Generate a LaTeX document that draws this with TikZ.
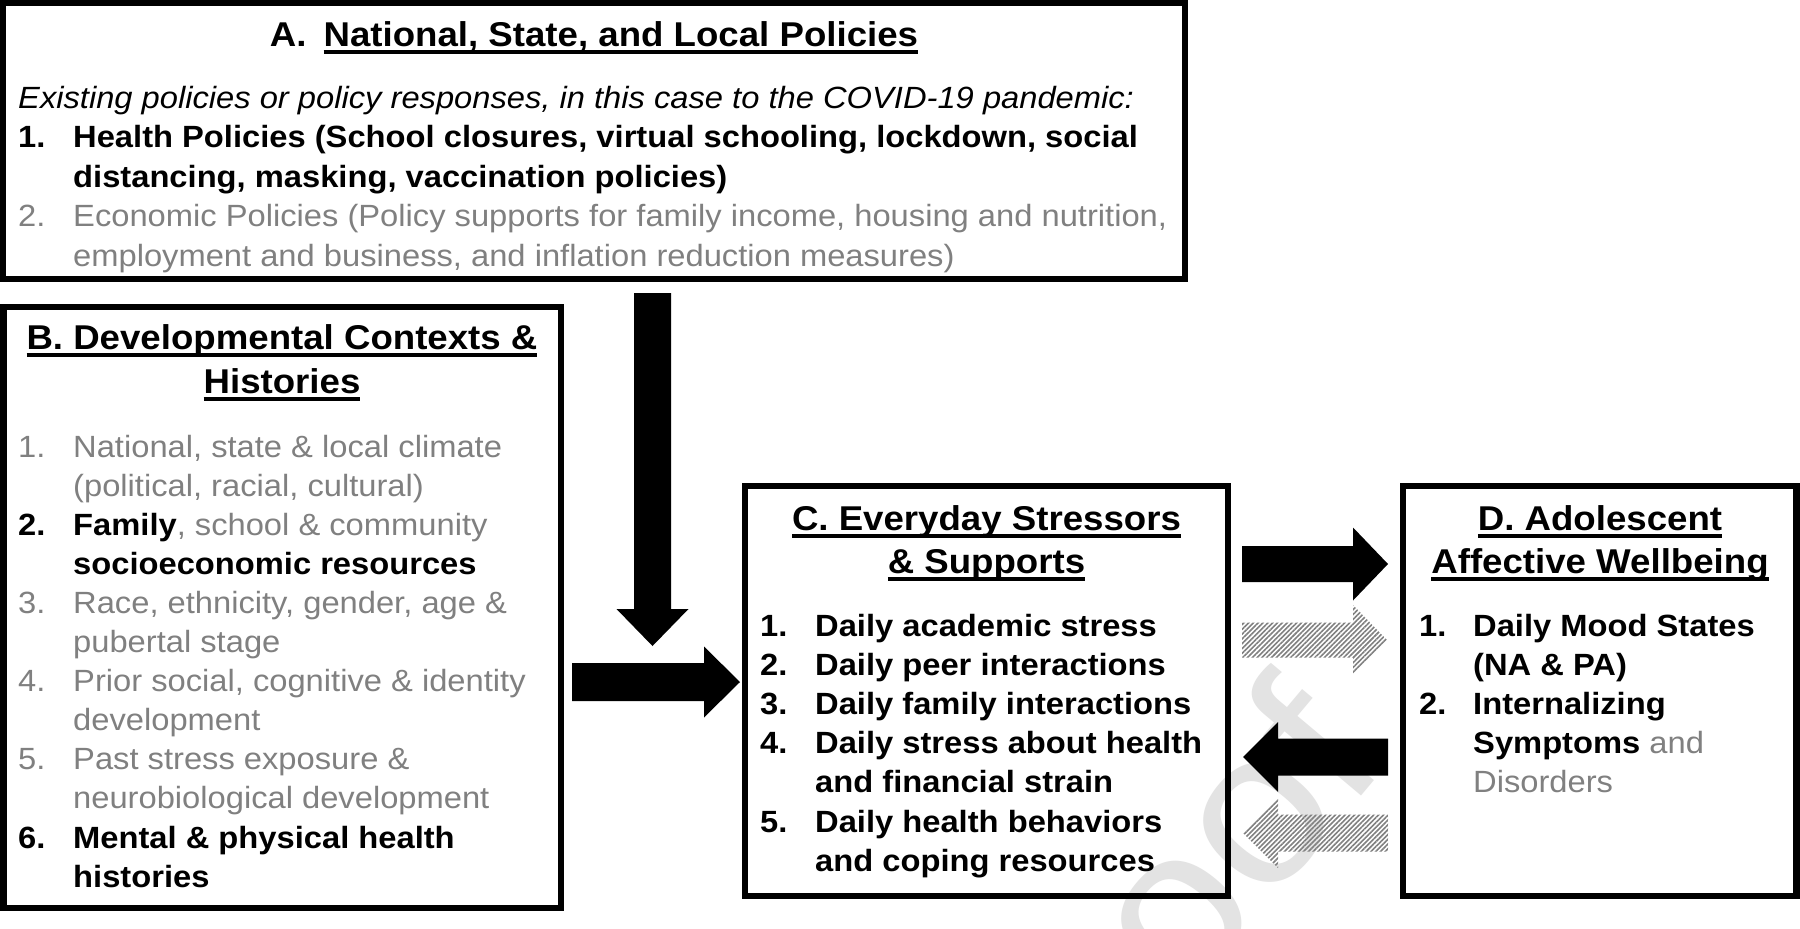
\documentclass[tikz,border=0pt]{standalone}
\usepackage{fontspec}
\setmainfont{Liberation Sans}[FakeStretch=1.065]
\usetikzlibrary{calc,patterns.meta}
\definecolor{txtgray}{gray}{0.5}
\definecolor{wmgray}{gray}{0.89}
\newcommand\bodyf{\fontsize{30.7}{39}\selectfont}
\newcommand\titlef{\fontsize{34.4}{44}\selectfont\bfseries}
\newcommand\uln[1]{\setbox0\hbox{#1}\rlap{\rule[-7.5pt]{\wd0}{3.2pt}}\box0}
\newcommand\gr[1]{{\color{txtgray}\mdseries #1}}
\newcommand\blockarrow[6]{%
  \coordinate (hb) at ($(#3)!#6!(#2)$);
  \path[#1] ($(#2)!#4!90:(#3)$) -- ($(hb)!#4!-90:(#2)$) -- ($(hb)!#5!-90:(#2)$) -- (#3)
    -- ($(hb)!#5!90:(#2)$) -- ($(hb)!#4!90:(#2)$) -- ($(#2)!#4!-90:(#3)$) -- cycle;}
\begin{document}
\begin{tikzpicture}[x=1pt,y=-1pt,
  box/.style={draw=black,line width=6.5pt,inner sep=0pt},
  tx/.style={anchor=base west,inner sep=0pt,font=\bodyf},
  bt/.style={tx,font=\bodyf\bfseries},
  gt/.style={tx,text=txtgray},
  ttl/.style={anchor=base,inner sep=0pt,font=\titlef},
  solidarrow/.style={fill=black},
  hatcharrow/.style={pattern={Lines[angle=45,distance=3.4pt,line width=1.6pt]},pattern color=black!50}]
\useasboundingbox (0,0) rectangle (1800,929);
\fill[white] (0,0) rectangle (1800,929);

% watermark
\node[rotate=50,anchor=base east,inner sep=0pt,text=wmgray,font=\fontsize{215}{215}\selectfont] (wm) at (1390,762) {Journal Pre-proof};

% boxes
\node[box,minimum width=1182pt,minimum height=276pt] (A) at (594,141) {};
\node[box,minimum width=557.5pt,minimum height=601pt] (B) at (282.25,607.5) {};
\node[box,minimum width=483pt,minimum height=410pt] (C) at (986.5,691) {};
\node[box,minimum width=393.5pt,minimum height=410pt] (D) at (1599.75,691) {};

% arrows
\coordinate (aS) at (652.5,293);  \coordinate (aT) at (652.5,646);
\coordinate (bS) at (572,682);    \coordinate (bT) at (740,682);
\coordinate (cS) at (1242,564);   \coordinate (cT) at (1388,564);
\coordinate (hS) at (1242,640);   \coordinate (hT) at (1387,640);
\coordinate (dS) at (1388,757);   \coordinate (dT) at (1243,757);
\coordinate (gS) at (1388,833);   \coordinate (gT) at (1243,833);
\blockarrow{solidarrow}{aS}{aT}{18.5pt}{36pt}{37pt}
\blockarrow{solidarrow}{bS}{bT}{19pt}{35.5pt}{36pt}
\blockarrow{solidarrow}{cS}{cT}{18pt}{36.5pt}{35pt}
\blockarrow{hatcharrow}{hS}{hT}{17.5pt}{35pt}{34pt}
\blockarrow{solidarrow}{dS}{dT}{18.5pt}{35pt}{35pt}
\blockarrow{hatcharrow}{gS}{gT}{18.5pt}{35pt}{35pt}

% Box A text
\node[ttl] (tA) at (594,46) {A.\hspace{17pt}\uln{National, State, and Local Policies}};
\node[tx,font=\bodyf\itshape] (a0) at (18,108) {Existing policies or policy responses, in this case to the COVID-19 pandemic:};
\node[bt] (a1n) at (18,147.5) {1.};
\node[bt] (a1) at (73,147.5) {Health Policies (School closures, virtual schooling, lockdown, social};
\node[bt] (a1b) at (73,187) {distancing, masking, vaccination policies)};
\node[gt] (a2n) at (18,226.5) {2.};
\node[gt] (a2) at (73,226.5) {Economic Policies (Policy supports for family income, housing and nutrition,};
\node[gt] (a2b) at (73,266) {employment and business, and inflation reduction measures)};

% Box B text
\node[ttl] (tB1) at (282,349) {\uln{B. Developmental Contexts \&}};
\node[ttl] (tB2) at (282,393) {\uln{Histories}};
\node[gt] (b1n) at (18,457) {1.};
\node[gt] (b1) at (73,457) {National, state \& local climate};
\node[gt] (b1b) at (73,496.1) {(political, racial, cultural)};
\node[bt] (b2n) at (18,535.2) {2.};
\node[bt] (b2) at (73,535.2) {Family\gr{, school \& community}};
\node[bt] (b2b) at (73,574.3) {socioeconomic resources};
\node[gt] (b3n) at (18,613.4) {3.};
\node[gt] (b3) at (73,613.4) {Race, ethnicity, gender, age \&};
\node[gt] (b3b) at (73,652.5) {pubertal stage};
\node[gt] (b4n) at (18,691.6) {4.};
\node[gt] (b4) at (73,691.6) {Prior social, cognitive \& identity};
\node[gt] (b4b) at (73,730.7) {development};
\node[gt] (b5n) at (18,769.8) {5.};
\node[gt] (b5) at (73,769.8) {Past stress exposure \&};
\node[gt] (b5b) at (73,808.9) {neurobiological development};
\node[bt] (b6n) at (18,848) {6.};
\node[bt] (b6) at (73,848) {Mental \& physical health};
\node[bt] (b6b) at (73,887.1) {histories};

% Box C text
\node[ttl] (tC1) at (986.5,530) {\uln{C. Everyday Stressors}};
\node[ttl] (tC2) at (986.5,573) {\uln{\& Supports}};
\node[bt] (c1n) at (760,636) {1.};
\node[bt] (c1) at (815,636) {Daily academic stress};
\node[bt] (c2n) at (760,675.2) {2.};
\node[bt] (c2) at (815,675.2) {Daily peer interactions};
\node[bt] (c3n) at (760,714.4) {3.};
\node[bt] (c3) at (815,714.4) {Daily family interactions};
\node[bt] (c4n) at (760,753.6) {4.};
\node[bt] (c4) at (815,753.6) {Daily stress about health};
\node[bt] (c4b) at (815,792.8) {and financial strain};
\node[bt] (c5n) at (760,832) {5.};
\node[bt] (c5) at (815,832) {Daily health behaviors};
\node[bt] (c5b) at (815,871.2) {and coping resources};

% Box D text
\node[ttl] (tD1) at (1600,530) {\uln{D. Adolescent}};
\node[ttl] (tD2) at (1600,573) {\uln{Affective Wellbeing}};
\node[bt] (d1n) at (1419,636) {1.};
\node[bt] (d1) at (1473,636) {Daily Mood States};
\node[bt] (d1b) at (1473,675.2) {(NA \& PA)};
\node[bt] (d2n) at (1419,714.4) {2.};
\node[bt] (d2) at (1473,714.4) {Internalizing};
\node[bt] (d2b) at (1473,753.6) {Symptoms\gr{ and}};
\node[gt] (d2c) at (1473,792.8) {Disorders};
\end{tikzpicture}
\end{document}
